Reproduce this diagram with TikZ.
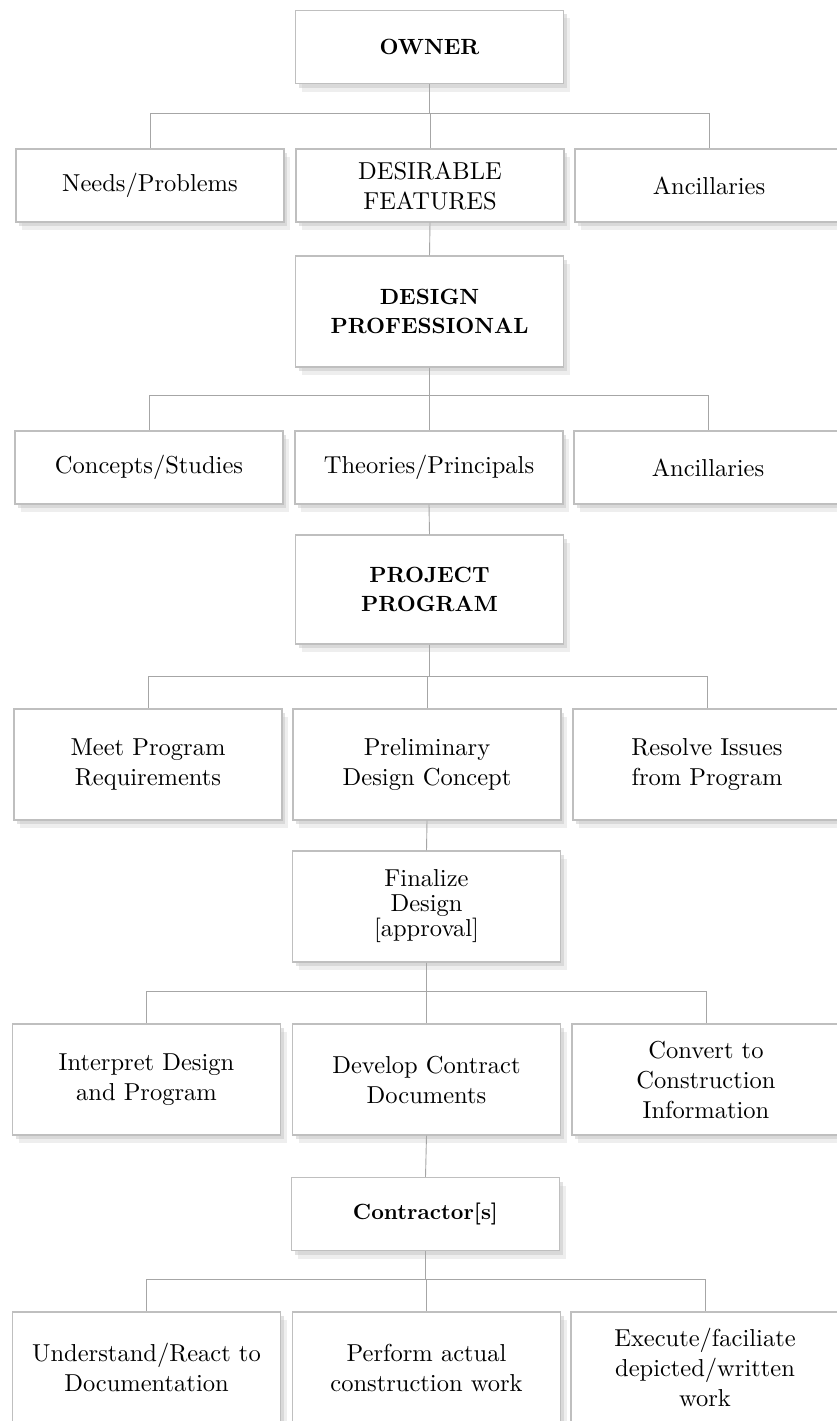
\documentclass[tikz,border=0pt]{standalone}
\usepackage{fontspec}
\setmainfont{lmroman10-regular.otf}[BoldFont=lmroman10-bold.otf]
\usetikzlibrary{shadows}
\tikzset{
  box/.style={draw=gray!50, line width=1.1pt, fill=white, align=center, inner sep=0pt,
    minimum width=268pt, minimum height=111pt, font=\fontsize{24.5}{30}\selectfont,
    drop shadow={shadow xshift=6pt, shadow yshift=-8pt, fill=gray!25},
    drop shadow={shadow xshift=3pt, shadow yshift=-4pt, fill=gray!45}},
  low/.style={minimum height=73pt},
  head/.style={font=\fontsize{22}{29}\selectfont\bfseries},
  link/.style={draw=gray!70, line width=0.9pt}
}
\begin{document}
\begin{tikzpicture}[x=1pt,y=-1pt]
                    \fill[white] (0,0) rectangle (836,1421);
                    \useasboundingbox (0,0) rectangle (836,1421);

                    % owner and its needs
                    \node[box,low,head] (owner) at (429.5,47) {OWNER};
                    \node[box,low] (needs) at (150,185.5) {Needs/Problems};
                    \node[box,low] (desire) at (430,185.5) {DESIRABLE\\FEATURES};
                    \node[box,low] (ancA) at (709,185.5) {Ancillaries};

                    % design professional
                    \node[box,head] (design) at (429.5,311.5) {DESIGN\\PROFESSIONAL};
                    \node[box,low] (concepts) at (149,467.5) {Concepts/Studies};
                    \node[box,low] (theories) at (429,467.5) {Theories/Principals};
                    \node[box,low] (ancB) at (708,467.5) {Ancillaries};

                    % project program
                    \node[box,head,minimum height=109pt] (program) at (429.5,589.5) {PROJECT\\PROGRAM};
                    \node[box] (meet) at (148,764.5) {Meet Program\\Requirements};
                    \node[box] (prelim) at (427,764.5) {Preliminary\\Design Concept};
                    \node[box] (resolve) at (707,764.5) {Resolve Issues\\from Program};

                    % final design
                    \node[box,font=\fontsize{24.5}{25}\selectfont] (final) at (426.5,906.5) {Finalize\\Design\\{[approval]}};
                    \node[box] (interpret) at (146.5,1079.5) {Interpret Design\\and Program};
                    \node[box] (develop) at (426.5,1079.5) {Develop Contract\\Documents};
                    \node[box] (convert) at (706,1079.5) {Convert to\\Construction\\Information};

                    % contractors
                    \node[box,low,head] (contractor) at (425.5,1214) {Contractor[s]};
                    \node[box] (understand) at (146.5,1367.5) {Understand/React to\\Documentation};
                    \node[box] (perform) at (426.5,1367.5) {Perform actual\\construction work};
                    \node[box] (execute) at (705,1367.5) {Execute/faciliate\\depicted/written\\work};

                    % bars
                    \coordinate (bar1) at (0,113);
                    \coordinate (bar2) at (0,395);
                    \coordinate (bar3) at (0,676);
                    \coordinate (bar4) at (0,991);
                    \coordinate (bar5) at (0,1279);

                    \foreach \kid in {needs,desire,ancA}
                        \draw[link] (owner.south) -- (owner.south |- bar1) -| (\kid.north);
                    \draw[link] (desire.south) -- (design.north);
                    \foreach \kid in {concepts,theories,ancB}
                        \draw[link] (design.south) -- (design.south |- bar2) -| (\kid.north);
                    \draw[link] (theories.south) -- (program.north);
                    \foreach \kid in {meet,prelim,resolve}
                        \draw[link] (program.south) -- (program.south |- bar3) -| (\kid.north);
                    \draw[link] (prelim.south) -- (final.north);
                    \foreach \kid in {interpret,develop,convert}
                        \draw[link] (final.south) -- (final.south |- bar4) -| (\kid.north);
                    \draw[link] (develop.south) -- (contractor.north);
                    \foreach \kid in {understand,perform,execute}
                        \draw[link] (contractor.south) -- (contractor.south |- bar5) -| (\kid.north);
\end{tikzpicture}
\end{document}
